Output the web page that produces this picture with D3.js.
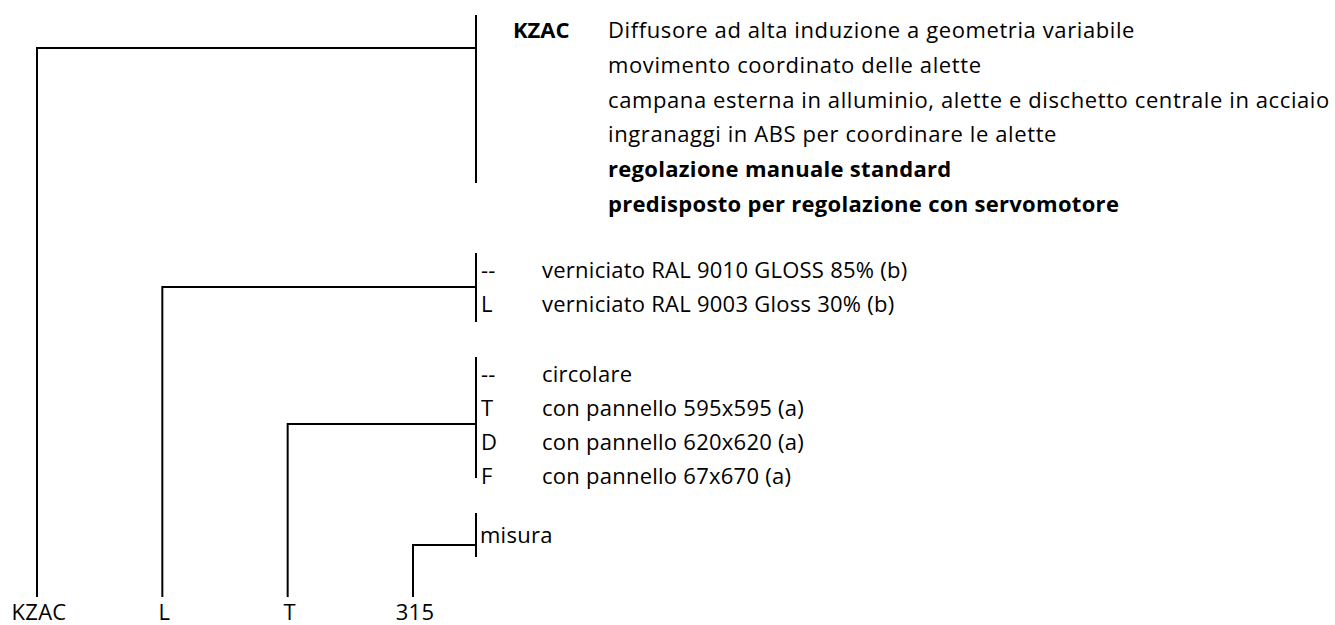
<!DOCTYPE html>
<html>
<head>
<meta charset="utf-8">
<script src="https://cdn.jsdelivr.net/npm/d3@7"></script>
<style>
  html, body { margin: 0; padding: 0; background: #fff; }
  svg { display: block; }
  text { font-family: "Open Sans", Lato, sans-serif; font-size: 22px; fill: #000; letter-spacing: 0.6px; }
  text.bold { font-weight: bold; letter-spacing: 0.3px; }
  text.opt { letter-spacing: 0.25px; }
</style>
</head>
<body>
<div id="chart"></div>
<script>
// product code parts, left to right
const codeParts = ["KZAC", "L", "T", "315"];

// model description
const modelCode = "KZAC";
const modelLines = [
    "Diffusore ad alta induzione a geometria variabile",
    "movimento coordinato delle alette",
    "campana esterna in alluminio, alette e dischetto centrale in acciaio",
    "ingranaggi in ABS per coordinare le alette",
    "regolazione manuale standard",
    "predisposto per regolazione con servomotore"
];
const modelBold = [false, false, false, false, true, true];

// finish options
const finishCodes = ["--", "L"];
const finishLabels = ["verniciato RAL 9010 GLOSS 85% (b)", "verniciato RAL 9003 Gloss 30% (b)"];

// shape options
const shapeCodes = ["--", "T", "D", "F"];
const shapeLabels = ["circolare", "con pannello 595x595 (a)", "con pannello 620x620 (a)", "con pannello 67x670 (a)"];

// size
const sizeLabel = "misura";

const width = 1335, height = 625;
const svg = d3.select("#chart").append("svg")
    .attr("width", width).attr("height", height);

const x = d3.scalePoint().domain(codeParts).range([37, 413]);
const bracketX = 476;
const stem = 597;

// one bracket per code part: span of the bracket, y where the connector joins
const groups = [
    { part: "KZAC", top: 15, bottom: 183, join: 48 },
    { part: "L", top: 253, bottom: 322, join: 287 },
    { part: "T", top: 357, bottom: 478, join: 424 },
    { part: "315", top: 513, bottom: 557, join: 545 }
];

const lines = svg.append("g")
    .attr("stroke", "#000").attr("stroke-width", 2).attr("fill", "none");

lines.selectAll(".bracket").data(groups).enter().append("line")
    .attr("x1", bracketX).attr("x2", bracketX)
    .attr("y1", d => d.top).attr("y2", d => d.bottom);

lines.selectAll(".connector").data(groups).enter().append("path")
    .attr("d", d => `M${bracketX},${d.join}H${x(d.part)}V${stem}`);

// code parts along the bottom
svg.selectAll(".part").data(codeParts).enter().append("text")
    .attr("class", "opt")
    .attr("x", d => x(d) + 2).attr("y", 620)
    .attr("text-anchor", "middle")
    .text(d => d);

// model block
const rowStep = 34.8;
svg.append("text")
    .attr("class", "bold")
    .attr("x", 513).attr("y", 38)
    .style("letter-spacing", "0px")
    .text(modelCode);
svg.selectAll(".model").data(modelLines).enter().append("text")
    .attr("class", (d, i) => modelBold[i] ? "bold" : null)
    .attr("x", 608).attr("y", (d, i) => 38 + i * rowStep)
    .text(d => d);

// option lists
function optionList(codes, labels, y0, step) {
    svg.selectAll(null).data(codes).enter().append("text")
        .attr("class", "opt")
        .attr("x", 481).attr("y", (d, i) => y0 + i * step)
        .text(d => d);
    svg.selectAll(null).data(labels).enter().append("text")
        .attr("class", "opt")
        .attr("x", 542).attr("y", (d, i) => y0 + i * step)
        .text(d => d);
}
optionList(finishCodes, finishLabels, 278, 33.5);
optionList(shapeCodes, shapeLabels, 382, 34);

svg.append("text")
    .attr("class", "opt")
    .attr("x", 480).attr("y", 543)
    .text(sizeLabel);
</script>
</body>
</html>
